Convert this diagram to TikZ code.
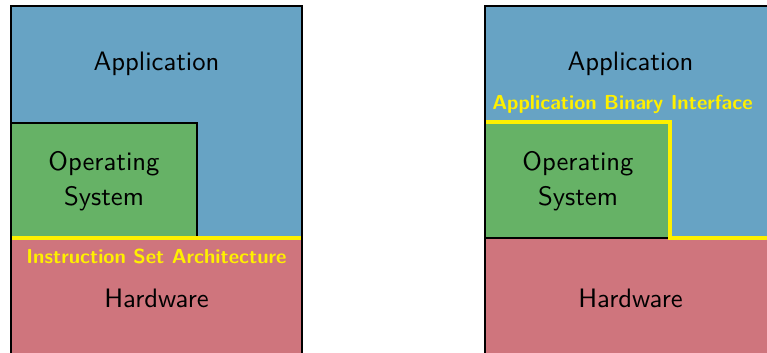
\documentclass[tikz,border=0pt]{standalone}
\usepackage{tikz}
\definecolor{appblue}{RGB}{103,163,196}
\definecolor{osgreen}{RGB}{102,178,102}
\definecolor{hwred}{RGB}{207,117,125}
\definecolor{ifyellow}{RGB}{255,240,0}

\begin{document}
\begin{tikzpicture}[x=0.375pt, y=-0.375pt, font=\sffamily,
	label/.style={align=center, text=black, font=\sffamily\fontsize{10}{13}\selectfont},
	iface/.style={text=ifyellow, font=\sffamily\bfseries\fontsize{7.6}{9}\selectfont},
	border/.style={draw=black, line width=0.9pt},
	yline/.style={draw=ifyellow, line width=1.5pt}]
		\useasboundingbox (0,0) rectangle (767,353);
		\clip (0,0) rectangle (767,353);

		% left: instruction set architecture
		\fill[appblue] (11,6) rectangle (302,238);
		\fill[hwred] (11,238) rectangle (302,370);
		\filldraw[fill=osgreen, border] (11,123) rectangle (197,238);
		\draw[yline] (11,238) -- (302,238);
		\draw[border] (11,370) -- (11,6) -- (302,6) -- (302,370);

		\node[label] (app1) at (156.5,64) {Application};
		\node[label] (os1) at (104,181) {Operating\\System};
		\node[iface] (isa) at (156.5,256) {Instruction Set Architecture};
		\node[label] (hw1) at (156.5,298) {Hardware};

		% right: application binary interface
		\fill[appblue] (485,6) rectangle (776,238);
		\fill[hwred] (485,238) rectangle (776,370);
		\fill[osgreen] (485,122) rectangle (670,238);
		\draw[border] (485,238) -- (670,238);
		\draw[yline] (485,122) -- (670,122) -- (670,238) -- (776,238);
		\draw[border] (485,370) -- (485,6) -- (776,6) -- (776,370);

		\node[label] (app2) at (630.5,64) {Application};
		\node[iface] (abi) at (622.5,104) {Application Binary Interface};
		\node[label] (os2) at (578,181) {Operating\\System};
		\node[label] (hw2) at (630.5,298) {Hardware};
\end{tikzpicture}
\end{document}
